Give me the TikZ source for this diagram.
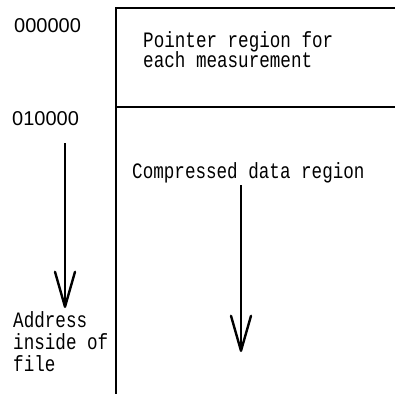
\documentclass[tikz,border=0pt]{standalone}
\usepackage{fontspec}
\setmainfont{Liberation Sans}
\newfontfamily\monofnt[FakeStretch=0.8]{Liberation Mono}
\usetikzlibrary{arrows.meta}
\begin{document}
\begin{tikzpicture}[x=1pt,y=-1pt,
  boxline/.style={line width=1.2pt},
  addrarrow/.style={line width=2.4pt,line join=round,line cap=butt,
    -{Straight Barb[length=35pt,width=20pt,line width=2.4pt,round]}},
  addr/.style={anchor=base west,inner sep=0pt,font=\fontsize{20}{22}\selectfont},
  mono/.style={anchor=base west,inner sep=0pt,font=\monofnt\fontsize{22}{22}\selectfont}]
\useasboundingbox (0,0) rectangle (395,394);
% box
\coordinate (tl) at (116,8);
\coordinate (tr) at (395,8);
\coordinate (bl) at (116,394);
\coordinate (ml) at (116,107);
\coordinate (mr) at (395,107);
\draw[boxline] (tr) -- (tl) -- (bl);
\draw[boxline] (ml) -- (mr);
% addresses
\node[addr] (a0) at (14,32) {000000};
\node[addr] (a1) at (12,125) {010000};
% region texts
\node[mono] (p1) at (143,47) {Pointer region for};
\node[mono] (p2) at (143,67) {each measurement};
\node[mono] (c1) at (132,178) {Compressed data region};
\node[mono] (f1) at (13,327) {Address};
\node[mono] (f2) at (13,349) {inside of};
\node[mono] (f3) at (13,371) {file};
% arrows
\coordinate (la0) at (65,143);
\coordinate (la1) at (65,308);
\coordinate (ra0) at (241,185);
\coordinate (ra1) at (241,352);
\draw[addrarrow] (la0) -- (la1);
\draw[addrarrow] (ra0) -- (ra1);
\end{tikzpicture}
\end{document}
